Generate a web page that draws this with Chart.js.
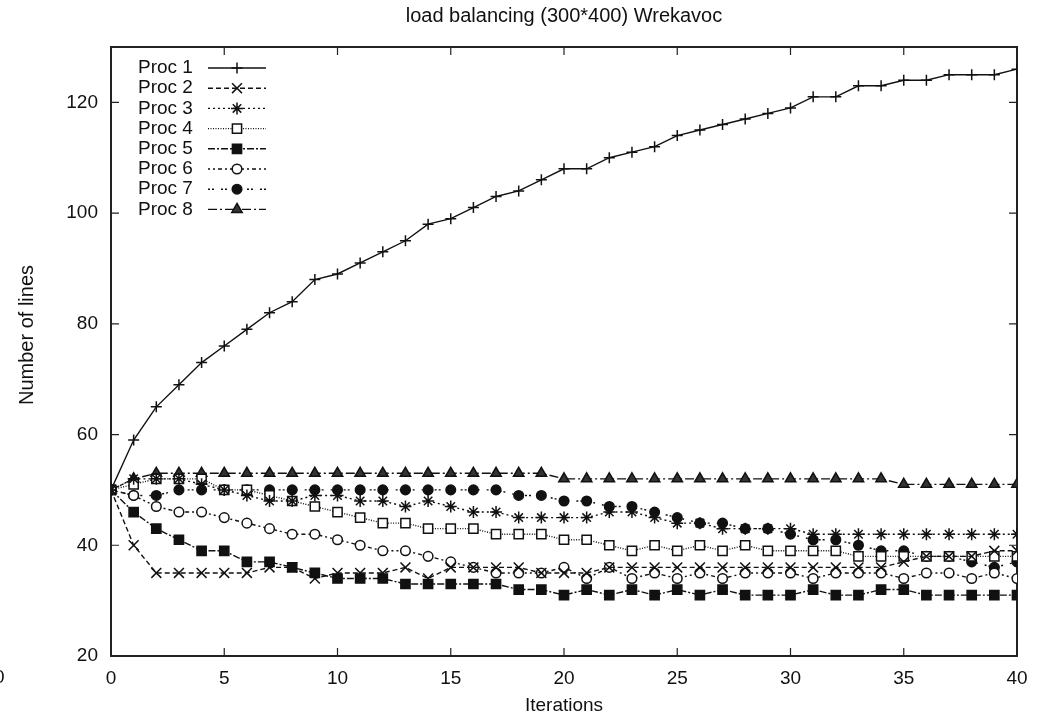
<!DOCTYPE html>
<html>
<head>
<meta charset="utf-8">
<title>load balancing (300*400) Wrekavoc</title>
<script src="https://cdn.jsdelivr.net/npm/chart.js@4.4.1/dist/chart.umd.min.js"></script>
<style>
  html, body { margin: 0; padding: 0; background: #fff; }
  .chart-wrap { position: relative; width: 1046px; height: 717px; }
</style>
</head>
<body>
<div class="chart-wrap"><canvas id="chart"></canvas></div>
<script>
// iterations 0..40
const iterations = [0, 1, 2, 3, 4, 5, 6, 7, 8, 9, 10, 11, 12, 13, 14, 15, 16, 17, 18, 19, 20,
  21, 22, 23, 24, 25, 26, 27, 28, 29, 30, 31, 32, 33, 34, 35, 36, 37, 38, 39, 40];

const proc1 = [50, 59, 65, 69, 73, 76, 79, 82, 84, 88, 89, 91, 93, 95, 98, 99, 101, 103, 104, 106, 108,
  108, 110, 111, 112, 114, 115, 116, 117, 118, 119, 121, 121, 123, 123, 124, 124, 125, 125, 125, 126];
const proc2 = [50, 40, 35, 35, 35, 35, 35, 36, 36, 34, 35, 35, 35, 36, 34, 36, 36, 36, 36, 35, 35,
  35, 36, 36, 36, 36, 36, 36, 36, 36, 36, 36, 36, 36, 36, 37, 38, 38, 38, 39, 39];
const proc3 = [50, 52, 52, 52, 51, 50, 49, 48, 48, 49, 49, 48, 48, 47, 48, 47, 46, 46, 45, 45, 45,
  45, 46, 46, 45, 44, 44, 43, 43, 43, 43, 42, 42, 42, 42, 42, 42, 42, 42, 42, 42];
const proc4 = [50, 51, 52, 52, 52, 50, 50, 49, 48, 47, 46, 45, 44, 44, 43, 43, 43, 42, 42, 42, 41,
  41, 40, 39, 40, 39, 40, 39, 40, 39, 39, 39, 39, 38, 38, 38, 38, 38, 38, 38, 38];
const proc5 = [50, 46, 43, 41, 39, 39, 37, 37, 36, 35, 34, 34, 34, 33, 33, 33, 33, 33, 32, 32, 31,
  32, 31, 32, 31, 32, 31, 32, 31, 31, 31, 32, 31, 31, 32, 32, 31, 31, 31, 31, 31];
const proc6 = [50, 49, 47, 46, 46, 45, 44, 43, 42, 42, 41, 40, 39, 39, 38, 37, 36, 35, 35, 35, 36,
  34, 36, 34, 35, 34, 35, 34, 35, 35, 35, 34, 35, 35, 35, 34, 35, 35, 34, 35, 34];
const proc7 = [50, 49, 49, 50, 50, 50, 50, 50, 50, 50, 50, 50, 50, 50, 50, 50, 50, 50, 49, 49, 48,
  48, 47, 47, 46, 45, 44, 44, 43, 43, 42, 41, 41, 40, 39, 39, 38, 38, 37, 36, 37];
const proc8 = [50, 52, 53, 53, 53, 53, 53, 53, 53, 53, 53, 53, 53, 53, 53, 53, 53, 53, 53, 53, 52,
  52, 52, 52, 52, 52, 52, 52, 52, 52, 52, 52, 52, 52, 52, 51, 51, 51, 51, 51, 51];

const xTicks = [0, 5, 10, 15, 20, 25, 30, 35, 40];
const yTicks = [20, 40, 60, 80, 100, 120];

const INK = '#111';
const FONT = '"Liberation Sans", Arial, Helvetica, sans-serif';

function series(label, values, dash, style, fill, radius) {
  return {
    label,
    data: iterations.map((x, i) => ({ x, y: values[i] })),
    borderColor: INK,
    borderWidth: 1.4,
    borderDash: dash,
    pointStyle: style,
    pointRadius: radius,
    pointBackgroundColor: fill,
    pointBorderColor: INK,
    pointBorderWidth: 1.5,
    tension: 0,
    fill: false
  };
}

// gnuplot-like frame with ticks pointing inwards, plus titles and a key inside the plot
const framePlugin = {
  id: 'frame',
  beforeDatasetsDraw(chart) {
    const { ctx, chartArea: a, scales } = chart;
    ctx.save();
    ctx.strokeStyle = '#222';
    ctx.lineWidth = 1.2;
    ctx.beginPath();
    xTicks.forEach((v) => {
      const px = scales.x.getPixelForValue(v);
      ctx.moveTo(px, a.bottom); ctx.lineTo(px, a.bottom - 8);
      ctx.moveTo(px, a.top); ctx.lineTo(px, a.top + 8);
    });
    yTicks.forEach((v) => {
      const py = scales.y.getPixelForValue(v);
      ctx.moveTo(a.left, py); ctx.lineTo(a.left + 8, py);
      ctx.moveTo(a.right, py); ctx.lineTo(a.right - 8, py);
    });
    ctx.stroke();
    ctx.lineWidth = 2;
    ctx.strokeRect(a.left, a.top, a.right - a.left, a.bottom - a.top);
    ctx.restore();
  },
  afterDatasetsDraw(chart) {
    const { ctx, chartArea: a } = chart;
    ctx.save();
    ctx.fillStyle = INK;
    ctx.textBaseline = 'middle';

    // title
    ctx.font = `20px ${FONT}`;
    ctx.textAlign = 'center';
    ctx.fillText('load balancing (300*400) Wrekavoc', (a.left + a.right) / 2, 16);

    // y axis title
    ctx.save();
    ctx.translate(27, 335);
    ctx.rotate(-Math.PI / 2);
    ctx.fillText('Number of lines', 0, 0);
    ctx.restore();

    // stray label cut by the left edge
    ctx.font = `19px ${FONT}`;
    ctx.textAlign = 'left';
    ctx.fillText('0', -6, 678);

    // key
    chart.data.datasets.forEach((ds, i) => {
      const y = a.top + 21 + i * 20.2;
      ctx.fillStyle = INK;
      ctx.textAlign = 'left';
      ctx.fillText(ds.label, a.left + 27, y);
      ctx.strokeStyle = INK;
      ctx.lineWidth = ds.borderWidth;
      ctx.setLineDash(ds.borderDash || []);
      ctx.beginPath();
      ctx.moveTo(a.left + 97, y);
      ctx.lineTo(a.left + 155, y);
      ctx.stroke();
      ctx.setLineDash([]);
      ctx.fillStyle = ds.pointBackgroundColor;
      ctx.lineWidth = ds.pointBorderWidth;
      Chart.helpers.drawPoint(ctx, {
        pointStyle: ds.pointStyle, radius: ds.pointRadius, rotation: 0, borderWidth: ds.pointBorderWidth
      }, a.left + 126, y);
    });
    ctx.restore();
  }
};

new Chart(document.getElementById('chart'), {
  type: 'line',
  data: {
    datasets: [
      series('Proc 1', proc1, [], 'cross', INK, 5.5),
      series('Proc 2', proc2, [5, 3], 'crossRot', INK, 7),
      series('Proc 3', proc3, [2, 3], 'star', INK, 6),
      series('Proc 4', proc4, [1, 1.5], 'rect', '#fff', 6.5),
      series('Proc 5', proc5, [7, 2, 2, 2], 'rect', INK, 6.5),
      series('Proc 6', proc6, [2, 3, 2, 3, 4, 3], 'circle', '#fff', 4.8),
      series('Proc 7', proc7, [2, 2, 2, 7], 'circle', INK, 4.8),
      series('Proc 8', proc8, [9, 3, 2, 3], 'triangle', '#333', 6)
    ]
  },
  options: {
    responsive: true,
    maintainAspectRatio: false,
    animation: false,
    layout: { padding: { top: 47, right: 29, left: 0, bottom: 0 } },
    plugins: {
      legend: { display: false },
      tooltip: { enabled: false }
    },
    scales: {
      x: {
        type: 'linear',
        min: 0,
        max: 40,
        afterBuildTicks(scale) { scale.ticks = xTicks.map((value) => ({ value })); },
        afterFit(scale) { scale.height = 61; },
        grid: { display: false, drawTicks: false },
        border: { display: false },
        ticks: { color: INK, font: { family: FONT, size: 19 }, padding: 11, maxRotation: 0 },
        title: { display: true, text: 'Iterations', color: INK, font: { family: FONT, size: 19 }, padding: { top: 0, bottom: 0 } }
      },
      y: {
        min: 20,
        max: 130,
        afterBuildTicks(scale) { scale.ticks = yTicks.map((value) => ({ value })); },
        afterFit(scale) { scale.width = 111; },
        grid: { display: false, drawTicks: false },
        border: { display: false },
        ticks: { color: INK, font: { family: FONT, size: 19 }, padding: 13 }
      }
    }
  },
  plugins: [framePlugin]
});
</script>
</body>
</html>
